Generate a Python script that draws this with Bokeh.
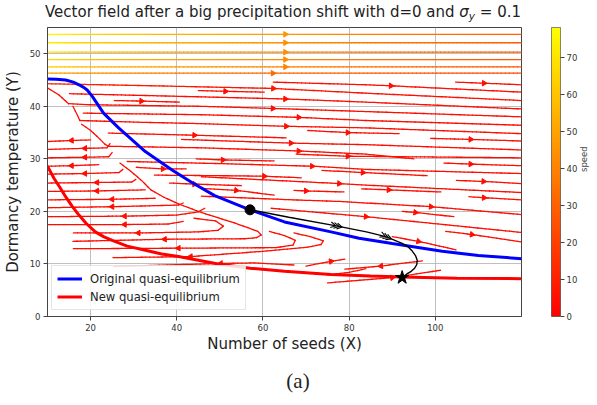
import numpy as np
from bokeh.plotting import figure
from bokeh.models import (ColumnDataSource, LinearColorMapper, Legend, LegendItem,
                          FixedTicker, Range1d, Div)
from bokeh.layouts import row, column
from bokeh.embed import file_html
from bokeh.resources import INLINE

# ---------------------------------------------------------------- data
X_RANGE = (10, 120)
Y_RANGE = (0, 55)
SPEED_MAX = 78
X_TICKS = [20, 40, 60, 80, 100]
Y_TICKS = [0, 10, 20, 30, 40, 50]
SPEED_TICKS = [0, 10, 20, 30, 40, 50, 60, 70]

# fast horizontal streamlines in the upper band
TOP_Y = [53.7, 52.1, 50.3, 48.9, 47.5, 46.3]
TOP_X = [10, 20, 35, 65.2, 90, 120]
TOP_ARROW_X = [65.2, 65.2, 65.2, 65.2, 65.2, 62.3]
TOP_SPEED = [
    [77, 66, 57, 46, 37, 30],
    [74, 63, 55, 44, 36, 29],
    [71, 61, 53, 43, 35, 28],
    [68, 59, 51, 42, 34, 27],
    [64, 56, 49, 40, 33, 26],
    [50, 44, 39, 32, 27, 22],
]

# slow streamlines: vertices in flow order, index of the vertex carrying the arrow
SLOW_LINES = [
    ([(10, 44.3), (35, 43.9), (62.4, 43.4), (83.9, 42.5), (120, 41.1)], 2),
    ([(62.4, 44.6), (83.9, 44.1), (89.7, 43.9), (120, 42.7)], 2),
    ([(104.7, 44.6), (111.3, 44.4), (120, 44.1)], 1),
    ([(45, 43.0), (51.3, 42.85), (60.3, 42.7)], 1),
    ([(15.1, 42.4), (45.7, 41.8), (65.2, 41.4), (83.9, 40.8), (120, 39.5)], 2),
    ([(25.5, 41.1), (31.8, 41.0), (40.6, 40.8)], 1),
    ([(10, 43.5), (12.6, 42.2), (14.9, 40.5), (20, 40.3), (45.7, 40.0), (62.3, 39.6),
      (83.9, 39.0), (120, 38.0)], 5),
    ([(18.3, 38.7), (45.7, 38.4), (68.3, 37.9), (83.9, 37.3), (120, 36.4)], 2),
    ([(15.9, 40.0), (17.0, 38.2), (17.5, 37.3), (30, 37.0), (45.7, 36.7), (65.4, 36.2),
      (83.9, 35.9), (120, 34.8)], 5),
    ([(24.1, 34.9), (44.1, 34.5), (65.4, 34.0)], 1),
    ([(70.4, 35.4), (79.7, 35.0), (91.6, 34.8)], 1),
    ([(41.1, 33.7), (66.5, 33.0), (83.9, 32.7), (120, 31.7)], 1),
    ([(17.9, 36.6), (20, 35.4), (22.1, 33.8), (23.3, 32.8), (24.1, 32.4), (45.7, 32.1),
      (68.3, 31.5), (83.9, 30.9), (95, 30.0)], 6),
    ([(67.7, 30.9), (79.7, 30.5), (120, 30.2)], 1),
    ([(44.5, 30.0), (50.7, 29.8), (62.6, 29.6)], 1),
    ([(28.5, 29.5), (50, 29.1), (71.4, 28.6), (83.9, 28.0), (120, 27.2)], 2),
    ([(73.7, 27.8), (83.2, 27.4), (98.1, 26.8)], 1),
    ([(102.0, 29.2), (108.2, 29.0), (120, 28.7)], 1),
    ([(98.9, 33.9), (108.2, 33.7), (120, 33.4)], 1),
    ([(104.9, 25.9), (111.2, 25.7), (120, 25.3)], 1),
    ([(67.2, 24.0), (70.0, 23.9), (78.8, 23.7)], 1),
    ([(82.9, 24.3), (89.2, 24.1), (101.3, 23.7)], 1),
    ([(107.8, 22.8), (111.3, 22.6), (120, 22.2)], 1),
    ([(45.7, 22.9), (67, 22.2), (77.7, 21.9), (99, 20.9), (120, 19.4)], 3),
    ([(34.8, 26.9), (50, 26.8), (60.3, 26.7), (68.9, 26.4)], 2),
    ([(45.7, 26.6), (77.7, 25.3), (83.9, 25.0), (120, 23.6)], 1),
    ([(45.7, 24.4), (53.8, 24.0), (62.6, 23.1)], 1),
    ([(92.3, 20.0), (95.4, 19.8), (104.3, 19.0)], 1),
    ([(61.9, 20.6), (83.9, 19.0), (120, 16.0)], 1),
    ([(102.4, 16.2), (108.5, 15.6), (120, 14.2)], 1),
    ([(90, 15.2), (96.1, 14.3), (104.8, 12.7)], 1),
    ([(30.6, 28.4), (36.8, 28.1), (42.2, 28.1)], 1),
    ([(38.3, 25.4), (44.1, 25.2), (55, 24.9)], 1),
    # leftward flow below the separatrix
    ([(20, 33.6), (15.6, 33.5), (10, 33.3)], 1),
    ([(24.5, 32.9), (23.8, 32.1), (18.7, 32.0), (10, 31.8)], 2),
    ([(25.0, 31.2), (24.2, 30.4), (18.7, 30.3), (10, 30.2)], 2),
    ([(21.9, 28.9), (15.6, 28.7), (10, 28.6)], 1),
    ([(27.5, 28.0), (26.6, 27.4), (18.7, 27.2), (10, 27.1)], 2),
    ([(30.5, 26.1), (29.6, 25.6), (21.5, 25.5), (10, 25.4)], 2),
    ([(32.7, 24.1), (21.5, 23.9), (10, 23.8)], 1),
    ([(35, 22.5), (25, 22.3), (10, 22.2)], 1),
    ([(41.5, 21.6), (40.4, 21.2), (25, 20.9), (10, 20.7)], 2),
    ([(46.5, 20.6), (45, 19.9), (40, 19.3), (27.9, 19.1), (10, 19.0)], 3),
    ([(41.5, 18.1), (38, 17.6), (27.9, 17.5), (10, 17.5)], 2),
    # turning loops between the two equilibria
    ([(44, 18.7), (49, 18.2), (50.8, 17.2), (49.6, 16.4), (45, 16.1), (31.1, 15.9), (16, 15.9)], 5),
    ([(26.8, 29.2), (29.1, 27.8), (31.8, 25.9), (34, 24.1), (37, 22.7), (40.5, 21.4),
      (45.7, 19.8), (53.4, 17.8), (56.5, 16.9), (58.8, 16.2), (59.6, 15.5), (58.5, 15.0),
      (55.7, 14.8), (37.2, 14.7), (15.9, 14.3)], 13),
    ([(61.5, 16.2), (65, 15.4), (67.5, 14.5), (67, 13.6), (63, 13.1), (40.4, 13.0), (16, 12.9)], 5),
    ([(67.2, 15.9), (71, 15.2), (74, 14.4), (73.5, 13.7), (70.4, 13.2), (60, 12.4),
      (43.2, 11.4), (25.2, 11.2)], 6),
    ([(67.2, 9.8), (58, 10.2), (50.2, 10.1), (25.4, 9.5)], 2),
    # near the new equilibrium
    ([(70, 9.6), (75.8, 10.5), (79, 10.9)], 1),
    ([(97, 10.6), (87.4, 9.6), (79, 9.0)], 1),
    ([(75, 6.4), (90, 7.4), (101.2, 8.8)], 1),
    ([(75, 7.9), (80, 8.4), (83.9, 9.1)], -1),
]
SLOW_SPEED = 4
FIRST_SLOW_SPEED = [11, 8, 6, 5, 4]

# quasi-equilibrium curves
BLUE_X = [10, 12, 14.2, 16, 17.3, 18.4, 19.2, 20.4, 23.0, 26.5, 32.7, 38.9, 43.5, 48.8,
          57.0, 65.0, 75.8, 82.3, 90.0, 101.6, 110, 120]
BLUE_Y = [45.2, 45.15, 45.0, 44.6, 44.1, 43.6, 43.1, 41.9, 38.7, 35.9, 31.4, 27.9, 25.5, 23.0,
          20.3, 18.0, 16.1, 14.9, 13.9, 12.4, 11.6, 11.0]
RED_X = [10, 11.5, 13, 14.2, 15.7, 17.3, 19, 21.1, 23, 25.0, 28.5, 32.7, 36.5, 40.4, 45,
         49.6, 57, 65.0, 75.8, 85, 92.3, 105, 120]
RED_Y = [28.6, 26.3, 24.4, 22.8, 21.0, 19.3, 17.7, 16.1, 15.2, 14.5, 13.4, 12.6, 11.9, 11.4,
         10.7, 10.0, 9.2, 8.6, 8.0, 7.7, 7.5, 7.3, 7.2]

# trajectory after the shift
TRAJ_X = [57.0, 66, 76.7, 84, 88.5, 92.3, 93.6, 94.6, 95.4, 95.8, 95.7, 95.2, 94.4, 93.4, 92.6, 92.3]
TRAJ_Y = [20.3, 18.9, 17.3, 16.1, 15.2, 13.9, 13.3, 12.5, 11.6, 10.7, 9.9, 9.2, 8.6, 8.1, 7.6, 7.4]
CHEVRON_X = [78.4, 89.8]

# ---------------------------------------------------------------- helpers
FRAME_W, FRAME_H = 475, 289
SX = FRAME_W / (X_RANGE[1] - X_RANGE[0])
SY = FRAME_H / (Y_RANGE[1] - Y_RANGE[0])
AUTUMN = ["#ff%02x00" % i for i in range(256)]
FONT = "DejaVu Sans"
TICK_COLOR = "#333333"
TITLE_H, CAPTION_H = 22, 40
FIG_H = 405 - TITLE_H - CAPTION_H


def speed_color(s):
    i = int(np.clip(round(s / SPEED_MAX * 255), 0, 255))
    return AUTUMN[i]


seg = dict(x0=[], y0=[], x1=[], y1=[], c=[])
arrows = dict(x=[], y=[], a=[], c=[])


def add_line(pts, speeds, arrow_idx):
    pts = np.asarray(pts, float)
    speeds = np.broadcast_to(np.asarray(speeds, float), (len(pts),))
    for i in range(len(pts) - 1):
        (xa, ya), (xb, yb) = pts[i], pts[i + 1]
        n = max(1, int(np.hypot((xb - xa) * SX, (yb - ya) * SY) / 4))
        for k in range(n):
            t0, t1 = k / n, (k + 1) / n
            seg["x0"].append(xa + (xb - xa) * t0)
            seg["y0"].append(ya + (yb - ya) * t0)
            seg["x1"].append(xa + (xb - xa) * t1)
            seg["y1"].append(ya + (yb - ya) * t1)
            seg["c"].append(speed_color(speeds[i] + (speeds[i + 1] - speeds[i]) * (t0 + t1) / 2))
    if arrow_idx >= 0:
        (xa, ya), (xb, yb) = pts[arrow_idx], pts[arrow_idx + 1]
        ang = np.arctan2((yb - ya) * SY, (xb - xa) * SX) - np.pi / 2
        arrows["x"].append(xa)
        arrows["y"].append(ya)
        arrows["a"].append(ang)
        arrows["c"].append(speed_color(speeds[arrow_idx]))


for y, sp, ax in zip(TOP_Y, TOP_SPEED, TOP_ARROW_X):
    xs = list(TOP_X)
    xs[3] = ax
    add_line([(x, y) for x in xs], sp, 3)

for j, (pts, ai) in enumerate(SLOW_LINES):
    add_line(pts, FIRST_SLOW_SPEED if j == 0 else SLOW_SPEED, ai)

# ---------------------------------------------------------------- main figure
p = figure(width=530, height=FIG_H, output_backend="svg", toolbar_location=None,
           x_range=Range1d(*X_RANGE), y_range=Range1d(*Y_RANGE),
           min_border_left=46, min_border_right=9, min_border_top=5, min_border_bottom=49)
p.background_fill_color = "white"
p.border_fill_color = "white"
p.outline_line_color = "#444444"
p.outline_line_width = 1

for ax in (p.xaxis[0], p.yaxis[0]):
    ax.major_label_text_font = FONT
    ax.major_label_text_font_size = "8.5px"
    ax.major_label_text_color = TICK_COLOR
    ax.major_tick_in = 0
    ax.major_tick_out = 4
    ax.minor_tick_in = 0
    ax.minor_tick_out = 0
    ax.major_label_standoff = 3
    ax.axis_line_color = "#444444"
    ax.major_tick_line_color = "#444444"
    ax.axis_label_text_font = FONT
    ax.axis_label_text_font_size = "15px"
    ax.axis_label_text_font_style = "normal"
    ax.axis_label_text_color = "#222222"
p.xaxis.ticker = FixedTicker(ticks=X_TICKS)
p.yaxis.ticker = FixedTicker(ticks=Y_TICKS)
p.xaxis.axis_label = "Number of seeds (X)"
p.yaxis.axis_label = "Dormancy temperature (Y)"
p.xaxis.axis_label_standoff = 1
p.yaxis.axis_label_standoff = 5
p.grid.grid_line_color = "#b0b0b0"
p.grid.grid_line_width = 1
p.grid.grid_line_alpha = 0.8

p.segment(x0="x0", y0="y0", x1="x1", y1="y1", line_color="c", line_width=1.3,
          line_cap="round", source=ColumnDataSource(seg))
p.scatter(x="x", y="y", angle="a", marker="triangle", size=5.5, fill_color="c",
          line_color="c", source=ColumnDataSource(arrows))

blue = p.line(BLUE_X, BLUE_Y, line_color="#0000ff", line_width=3)
red = p.line(RED_X, RED_Y, line_color="#ff0000", line_width=3)

p.line(TRAJ_X, TRAJ_Y, line_color="black", line_width=1.4)
# triple chevrons along the trajectory
cx, cy = [], []
tx = np.array(TRAJ_X[:6])
ty = np.array(TRAJ_Y[:6])
for xc in CHEVRON_X:
    yc = float(np.interp(xc, tx, ty))
    dyc = float(np.interp(xc + 0.5, tx, ty)) - yc
    d = np.array([0.5 * SX, dyc * SY])
    d /= np.hypot(*d)
    nrm = np.array([-d[1], d[0]])
    for k in range(3):
        tip = -d * 3.2 * k
        for s in (1, -1):
            w = tip - d * 6 * np.cos(0.5) + s * nrm * 6 * np.sin(0.5)
            cx.append([xc + tip[0] / SX, xc + w[0] / SX])
            cy.append([yc + tip[1] / SY, yc + w[1] / SY])
p.multi_line(cx, cy, line_color="black", line_width=1.1)

p.scatter([TRAJ_X[0]], [TRAJ_Y[0]], marker="circle", size=10, color="black")
p.scatter([TRAJ_X[-1]], [TRAJ_Y[-1]], marker="star", size=14, color="black")

legend = Legend(items=[LegendItem(label="Original quasi-equilibrium", renderers=[blue]),
                       LegendItem(label="New quasi-equilibrium", renderers=[red])],
                location=(4, 6), label_text_font=FONT, label_text_font_size="11.6px",
                label_text_color="#222222", glyph_width=25, glyph_height=15,
                label_height=15, spacing=3, padding=5, label_standoff=8, margin=0,
                border_line_color="#cccccc", background_fill_alpha=0.85)
p.add_layout(legend)

# ---------------------------------------------------------------- colour bar
mapper = LinearColorMapper(palette=AUTUMN, low=0, high=SPEED_MAX)
cb = figure(width=67, height=FIG_H, output_backend="svg", toolbar_location=None,
            x_range=Range1d(0, 1), y_range=Range1d(0, SPEED_MAX), y_axis_location="right",
            min_border_left=21, min_border_right=32, min_border_top=5, min_border_bottom=49)
cb.image(image=[np.linspace(0, SPEED_MAX, 256).reshape(-1, 1)], x=0, y=0, dw=1, dh=SPEED_MAX,
         color_mapper=mapper)
cb.xaxis.visible = False
cb.grid.visible = False
cb.outline_line_color = "#666666"
cb.yaxis.ticker = FixedTicker(ticks=SPEED_TICKS)
cb.yaxis.major_label_text_font = FONT
cb.yaxis.major_label_text_font_size = "8.5px"
cb.yaxis.major_label_text_color = TICK_COLOR
cb.yaxis.major_tick_in = 0
cb.yaxis.major_tick_out = 4
cb.yaxis.minor_tick_out = 0
cb.yaxis.minor_tick_in = 0
cb.yaxis.major_label_standoff = 2
cb.yaxis.axis_line_color = None
cb.yaxis.major_tick_line_color = "#444444"
cb.yaxis.axis_label = "speed"
cb.yaxis.axis_label_orientation = np.pi / 2
cb.yaxis.axis_label_text_font = FONT
cb.yaxis.axis_label_text_font_size = "8.5px"
cb.yaxis.axis_label_text_font_style = "normal"
cb.yaxis.axis_label_standoff = 4
cb.border_fill_color = "white"

# ---------------------------------------------------------------- title and caption
title = Div(
    text='Vector field after a big precipitation shift with d=0 and '
         '<i>σ</i><span style="position:relative;top:3px;font-size:10.5px;font-style:italic">y</span>'
         ' = 0.1',
    width=597, height=TITLE_H, margin=(0, 0, 0, 0),
    styles={"font-family": FONT, "font-size": "15px", "color": "#222222",
            "padding-left": "45px", "padding-top": "5px", "line-height": "15px",
            "white-space": "nowrap", "overflow": "hidden"})
caption = Div(
    text="(a)", width=596, height=CAPTION_H, margin=(0, 0, 0, 0),
    styles={"font-family": "Liberation Serif", "font-size": "21px", "color": "#222222",
            "text-align": "center", "padding-top": "6px", "line-height": "21px"})

layout = column(title, row(p, cb, spacing=0), caption, spacing=0)
open("out.html", "w").write(file_html(layout, INLINE, "Vector field"))
